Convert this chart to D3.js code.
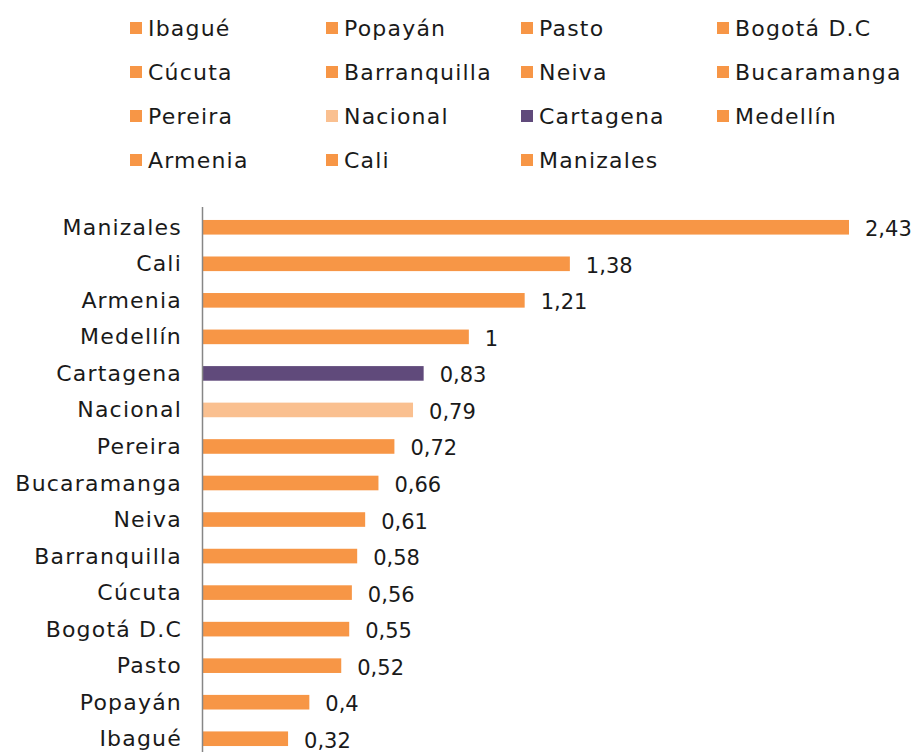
<!DOCTYPE html>
<html>
<head>
<meta charset="utf-8">
<script src="https://cdn.jsdelivr.net/npm/d3@7"></script>
<style>
  body { margin: 0; background: #fff; }
  text { font-family: "DejaVu Sans", sans-serif; fill: #1a1a1a; }
</style>
</head>
<body>
<div id="chart"></div>
<script>
// categories, top to bottom
const cities = ['Manizales', 'Cali', 'Armenia', 'Medellín', 'Cartagena', 'Nacional', 'Pereira',
  'Bucaramanga', 'Neiva', 'Barranquilla', 'Cúcuta', 'Bogotá D.C', 'Pasto', 'Popayán', 'Ibagué'];
const values = [2.43, 1.38, 1.21, 1, 0.83, 0.79, 0.72, 0.66, 0.61, 0.58, 0.56, 0.55, 0.52, 0.4, 0.32];
const valueLabels = ['2,43', '1,38', '1,21', '1', '0,83', '0,79', '0,72', '0,66', '0,61', '0,58',
  '0,56', '0,55', '0,52', '0,4', '0,32'];
// legend order (as in the source legend)
const legendOrder = ['Ibagué', 'Popayán', 'Pasto', 'Bogotá D.C', 'Cúcuta', 'Barranquilla', 'Neiva',
  'Bucaramanga', 'Pereira', 'Nacional', 'Cartagena', 'Medellín', 'Armenia', 'Cali', 'Manizales'];

const colors = { default: '#F79646', Nacional: '#FAC090', Cartagena: '#604A7B' };
const colorOf = c => colors[c] || colors.default;

const width = 916, height = 752;
const svg = d3.select('#chart').append('svg')
  .attr('width', width)
  .attr('height', height);

// legend
const legend = svg.append('g').attr('class', 'legend');
const colX = [130, 326, 521, 717];
const legendItems = legend.selectAll('g')
  .data(legendOrder)
  .enter()
  .append('g')
  .attr('transform', (d, i) => `translate(${colX[i % 4]}, ${28 + Math.floor(i / 4) * 44})`);

legendItems.append('rect')
  .attr('x', 0)
  .attr('y', -6)
  .attr('width', 12)
  .attr('height', 12)
  .attr('fill', colorOf);

legendItems.append('text')
  .attr('x', 18)
  .attr('y', 0)
  .attr('dominant-baseline', 'central')
  .attr('font-size', '22px')
  .attr('letter-spacing', '1.2px')
  .text(d => d);

// bars
const x = d3.scaleLinear()
  .domain([0, 2.43])
  .range([203, 849]);

const y = d3.scaleBand()
  .domain(cities)
  .range([209, 757])
  .paddingInner(0.6)
  .paddingOuter(0.3);

const data = cities.map((c, i) => ({ city: c, value: values[i], label: valueLabels[i] }));

svg.append('g')
  .selectAll('rect')
  .data(data)
  .enter()
  .append('rect')
  .attr('x', x(0))
  .attr('y', d => y(d.city))
  .attr('width', d => x(d.value) - x(0))
  .attr('height', y.bandwidth())
  .attr('fill', d => colorOf(d.city));

// axis line on the left
svg.append('line')
  .attr('x1', 202.5).attr('x2', 202.5)
  .attr('y1', 207).attr('y2', height)
  .attr('stroke', '#868686')
  .attr('stroke-width', 1.5);

// category labels
svg.append('g')
  .selectAll('text')
  .data(data)
  .enter()
  .append('text')
  .attr('x', 182)
  .attr('y', d => y(d.city) + y.bandwidth() / 2)
  .attr('text-anchor', 'end')
  .attr('dominant-baseline', 'central')
  .attr('font-size', '22px')
  .attr('letter-spacing', '1.2px')
  .text(d => d.city);

// value labels
svg.append('g')
  .selectAll('text')
  .data(data)
  .enter()
  .append('text')
  .attr('x', d => x(d.value) + 16)
  .attr('y', d => y(d.city) + y.bandwidth() / 2 + 2)
  .attr('dominant-baseline', 'central')
  .attr('font-size', '21px')
  .text(d => d.label);
</script>
</body>
</html>
